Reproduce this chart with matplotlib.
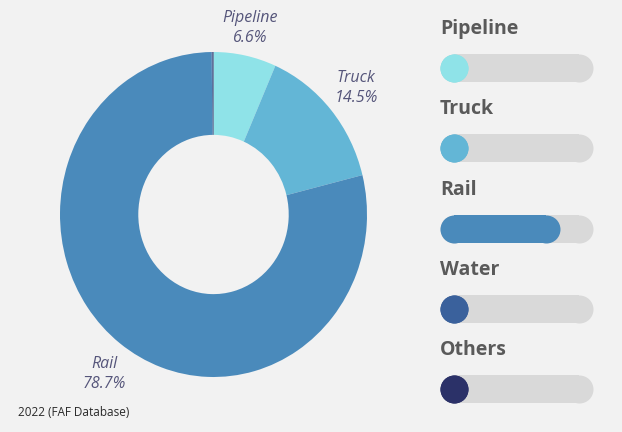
import matplotlib.pyplot as plt

modes = ["Pipeline", "Truck", "Rail", "Water", "Others"]
shares = [6.6, 14.5, 78.7, 0.1, 0.1]
colors = ["#8fe3e8", "#63b6d6", "#4a8abb", "#3a619c", "#2b3168"]
labelled = ["Pipeline", "Truck", "Rail"]

bg = "#f2f2f2"
fig = plt.figure(figsize=(6.22, 4.32), dpi=100, facecolor=bg)

# donut (stretched slightly like the original)
ax = fig.add_axes([60 / 622, 1 - 377 / 432, 307 / 622, 325 / 432])
ax.pie(shares, colors=colors, startangle=90, counterclock=False,
       radius=1.0, wedgeprops=dict(width=0.51, linewidth=0))
ax.set_aspect("auto")
ax.set_xlim(-1, 1)
ax.set_ylim(-1, 1)
ax.axis("off")

lbl_color = "#55557a"
label_pos = {"Pipeline": (250, 28), "Truck": (356, 88), "Rail": (104, 374)}
for name, val in zip(modes, shares):
    if name in labelled:
        x, y = label_pos[name]
        fig.text(x / 622, 1 - y / 432, f"{name}\n{val}%", ha="center", va="center",
                 style="italic", fontsize=11.5, color=lbl_color, linespacing=1.4,
                 family="Open Sans")

# legend bars: thick lines with round ends
lx = fig.add_axes([0, 0, 1, 1])
lx.set_xlim(0, 622)
lx.set_ylim(432, 0)
lx.axis("off")
x0, x1, h = 440, 593, 28
lw = h * 72 / 100


def pill(xa, xb, y, color):
    lx.plot([xa + h / 2, xb - h / 2], [y, y], color=color, lw=lw,
            solid_capstyle="butt")
    lx.plot([xa + h / 2, xb - h / 2], [y, y], ls="none", marker="o", ms=lw,
            mfc=color, mec="none")


for i, (name, val, c) in enumerate(zip(modes, shares, colors)):
    yc = 68 + i * 80.3
    lx.text(x0, yc - 39, name, ha="left", va="center", fontsize=14,
            fontweight="bold", color="#5a5a5a", family="Open Sans")
    pill(x0, x1, yc, "#d9d9d9")
    w = max((x1 - x0) * val / 100, h)
    pill(x0, x0 + w, yc, c)

fig.text(18 / 622, 1 - 413 / 432, "2022 (FAF Database)", ha="left", va="center",
         fontsize=8.5, color="#2a2a2a", family="Open Sans")

fig.savefig("out.png", dpi=100, facecolor=bg)
